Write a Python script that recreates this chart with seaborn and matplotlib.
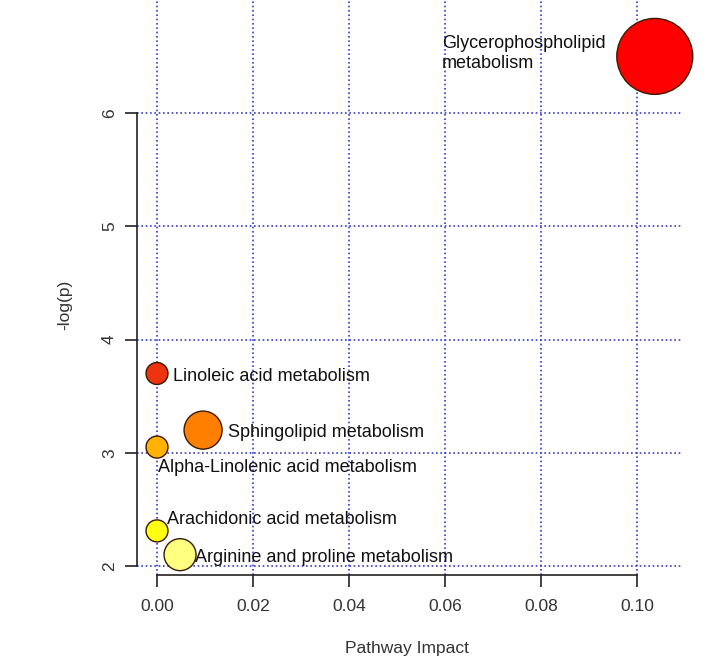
import matplotlib
matplotlib.use("Agg")
import matplotlib.pyplot as plt
import seaborn as sns
import pandas as pd

# ---- data ----
pathways = [
    "Glycerophospholipid\nmetabolism",
    "Linoleic acid metabolism",
    "Sphingolipid metabolism",
    "Alpha-Linolenic acid metabolism",
    "Arachidonic acid metabolism",
    "Arginine and proline metabolism",
]
impact = [0.1037, 0.0, 0.0096, 0.0, 0.0, 0.0048]
neglogp = [6.50, 3.70, 3.20, 3.05, 2.31, 2.10]
x_ticks = [0.00, 0.02, 0.04, 0.06, 0.08, 0.10]
x_ticklabels = ["0.00", "0.02", "0.04", "0.06", "0.08", "0.10"]
y_ticks = [2, 3, 4, 5, 6]
x_label = "Pathway Impact"
y_label = "-log(p)"

# ---- style ----
colors = ["#FF0000", "#EE3311", "#FF7F00", "#FFB300", "#FFFF10", "#FFFF80"]
marker_sizes = [2990, 250, 750, 250, 250, 530]
label_offsets = [(-153, 2), (11.5, -2), (18, -1.5), (0.7, -15), (7, 8), (11, -2)]

df = pd.DataFrame({"pathway": pathways, "impact": impact, "neglogp": neglogp})

sns.set_style("white")
plt.rcParams["font.family"] = ["Liberation Sans", "DejaVu Sans"]

fig = plt.figure(figsize=(7.24, 6.62), dpi=100)
ax = fig.add_axes([137 / 724, 1 - 575 / 662, 546 / 724, 575 / 662])

sns.scatterplot(
    data=df, x="impact", y="neglogp",
    hue="pathway", palette=dict(zip(pathways, colors)),
    size="pathway", sizes=dict(zip(pathways, marker_sizes)),
    edgecolor="#3a1a00", linewidth=1.0, legend=False, ax=ax, zorder=3,
)
for coll in ax.collections:
    coll.set_clip_on(False)

for name, xv, yv, off in zip(pathways, impact, neglogp, label_offsets):
    ax.annotate(name, (xv, yv), xytext=off, textcoords="offset points",
                ha="left", va="center", fontsize=13, color="#111111",
                zorder=5, linespacing=1.25, annotation_clip=False)

ax.set_xlim(-0.004167, 0.10958)
ax.set_ylim(1.9205, 6.998)

ax.set_xticks(x_ticks)
ax.set_xticklabels(x_ticklabels)
ax.set_yticks(y_ticks)
ax.set_yticklabels([str(v) for v in y_ticks], rotation=90, va="center")

ax.grid(True, color="#3a3ad0", linestyle=(0, (1, 1.6)), linewidth=1.2, zorder=0)
ax.set_axisbelow(True)

for s in ["top", "right"]:
    ax.spines[s].set_visible(False)
ax.spines["left"].set_bounds(2, 6)
ax.spines["bottom"].set_bounds(0, 0.10)
for s in ["left", "bottom"]:
    ax.spines[s].set_color("#222222")
    ax.spines[s].set_linewidth(1.2)

ax.tick_params(axis="both", which="major", direction="out", length=8.5,
               width=1.2, color="#222222", labelsize=12.5, labelcolor="#333333",
               left=True, bottom=True)
ax.tick_params(axis="x", pad=9)
ax.tick_params(axis="y", pad=6)

ax.set_xlabel(x_label, fontsize=12.5, color="#333333")
ax.set_ylabel(y_label, fontsize=12.5, color="#333333")
ax.xaxis.set_label_coords((407 - 137) / 546, (575 - 641) / 575)
ax.yaxis.set_label_coords((72 - 137) / 546, (575 - 305) / 575)

fig.savefig("out.png", dpi=100)
